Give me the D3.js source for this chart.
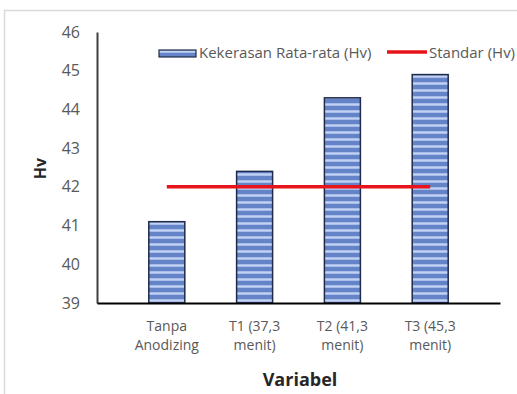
<!DOCTYPE html>
<html lang="en">
<head>
<meta charset="UTF-8">
<title>Kekerasan</title>
<script src="https://d3js.org/d3.v7.min.js"></script>
<style>
  body { margin: 0; background: #fff; }
  text { font-family: "Open Sans", "Liberation Sans", sans-serif; }
</style>
</head>
<body>
<div id="chart"></div>
<script>
// data
const categories = [["Tanpa", "Anodizing"], ["T1 (37,3", "menit)"], ["T2 (41,3", "menit)"], ["T3 (45,3", "menit)"]];
const hardness = [41.1, 42.4, 44.3, 44.9];
const standard = [42, 42, 42, 42];
const yTicks = [39, 40, 41, 42, 43, 44, 45, 46];
const legendNames = ["Kekerasan Rata-rata (Hv)", "Standar (Hv)"];

const W = 517, H = 394;
const margin = { top: 32, right: 17, bottom: 91, left: 97 };
const width = W - margin.left - margin.right;
const height = H - margin.top - margin.bottom;

const svg = d3.select("#chart").append("svg")
    .attr("width", W)
    .attr("height", H);

// frame of the chart area
svg.append("path")
    .attr("d", "M4.5," + H + " V10.5 H" + W)
    .attr("fill", "none")
    .attr("stroke", "#d9d9d9")
    .attr("stroke-width", 1.5);

// striped fill for the bars
const defs = svg.append("defs");
const pat = defs.append("pattern")
    .attr("id", "stripes")
    .attr("patternUnits", "userSpaceOnUse")
    .attr("width", 8).attr("height", 7);
pat.append("rect").attr("width", 8).attr("height", 7).attr("fill", "#6584c8");
pat.append("rect").attr("y", 1).attr("width", 8).attr("height", 3).attr("fill", "#a9bdea");
pat.append("rect").attr("y", 2).attr("width", 8).attr("height", 1).attr("fill", "#c3d1f2");

const g = svg.append("g").attr("transform", "translate(" + margin.left + "," + margin.top + ")");

const x = d3.scaleBand().domain(d3.range(categories.length)).range([0, width]).padding(0.59);
const y = d3.scaleLinear().domain([39, 46]).range([height, 0]);

// bars
g.selectAll(".bar").data(hardness).join("rect")
    .attr("class", "bar")
    .attr("x", (d, i) => x(i))
    .attr("y", d => y(d))
    .attr("width", x.bandwidth())
    .attr("height", d => height - y(d))
    .attr("fill", "url(#stripes)")
    .attr("stroke", "#1e2b4a")
    .attr("stroke-width", 1.5);

// standard line
const line = d3.line()
    .x((d, i) => x(i) + x.bandwidth() / 2)
    .y(d => y(d));
g.append("path")
    .datum(standard)
    .attr("d", line)
    .attr("fill", "none")
    .attr("stroke", "#e8141c")
    .attr("stroke-width", 3.5);

// y axis
const yAxis = g.append("g").call(d3.axisLeft(y).tickValues(yTicks).tickFormat(d3.format("d")).tickSize(0).tickPadding(17));
yAxis.select(".domain").attr("stroke", "#404040").attr("stroke-width", 2);
yAxis.selectAll("text").attr("font-size", 16).attr("fill", "#595959");

// x axis
const xAxis = g.append("g")
    .attr("transform", "translate(0," + height + ")")
    .call(d3.axisBottom(x).tickSize(0).tickFormat(""));
xAxis.select(".domain").attr("stroke", "#000").attr("stroke-width", 2);
xAxis.selectAll(".tick").each(function (d) {
    const t = d3.select(this).append("text")
        .attr("fill", "#595959")
        .attr("font-size", 14)
        .attr("text-anchor", "middle");
    categories[d].forEach((s, k) => {
        t.append("tspan").attr("x", 0).attr("y", 28 + k * 19).text(s);
    });
});

// axis titles
svg.append("text")
    .attr("transform", "translate(46," + (margin.top + height / 2 + 1) + ") rotate(-90)")
    .attr("text-anchor", "middle")
    .attr("font-size", 16)
    .attr("font-weight", "bold")
    .attr("fill", "#262626")
    .text("Hv");
svg.append("text")
    .attr("x", 300).attr("y", 386)
    .attr("text-anchor", "middle")
    .attr("font-size", 18)
    .attr("font-weight", "bold")
    .attr("fill", "#262626")
    .text("Variabel");

// legend
const leg = svg.append("g");
leg.append("rect")
    .attr("x", 159).attr("y", 50).attr("width", 37).attr("height", 7)
    .attr("fill", "url(#stripes)").attr("stroke", "#1e2b4a").attr("stroke-width", 1.2);
leg.append("text").attr("x", 199).attr("y", 58).attr("font-size", 15).attr("fill", "#595959").text(legendNames[0]);
leg.append("line")
    .attr("x1", 387).attr("x2", 427).attr("y1", 52).attr("y2", 52)
    .attr("stroke", "#e8141c").attr("stroke-width", 3.5);
leg.append("text").attr("x", 429).attr("y", 58).attr("font-size", 15).attr("fill", "#595959").text(legendNames[1]);
</script>
</body>
</html>
